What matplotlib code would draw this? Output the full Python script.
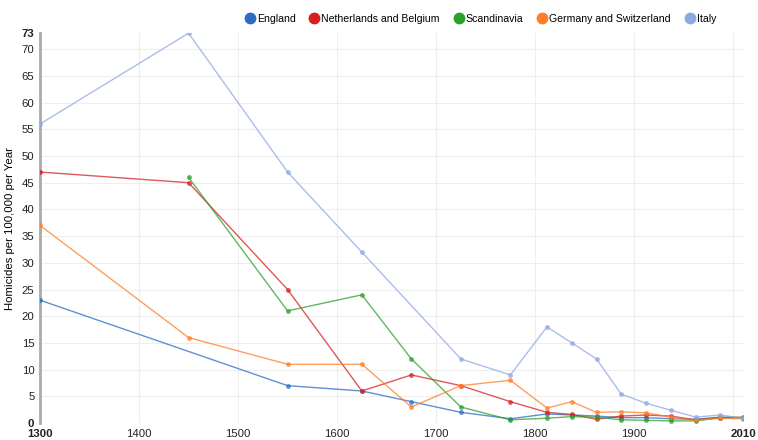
import matplotlib.pyplot as plt
from matplotlib.lines import Line2D

plt.rcParams['font.family'] = ['Liberation Sans', 'DejaVu Sans']

# years of the samples
years_all = [1300, 1450, 1550, 1625, 1675, 1725, 1775, 1812, 1837, 1862, 1887, 1912, 1937, 1962, 1987, 2010]

england_years = [1300, 1550, 1625, 1675, 1725, 1775, 1812, 1837, 1862, 1887, 1912, 1937, 1962, 1987, 2010]
england = [23, 7, 6, 4, 2, 0.8, 1.7, 1.5, 1.3, 1.0, 1.0, 0.8, 0.7, 1.1, 1.0]

netherlands_years = years_all
netherlands = [47, 45, 25, 6, 9, 7, 4, 2, 1.6, 0.7, 1.3, 1.5, 1.3, 0.6, 1.0, 1.0]

scandinavia_years = years_all[1:]
scandinavia = [46, 21, 24, 12, 3, 0.6, 0.9, 1.2, 1.1, 0.6, 0.5, 0.4, 0.4, 1.0, 1.1]

germany_years = years_all
germany = [37, 16, 11, 11, 3, 7, 8, 2.8, 4, 2.0, 2.1, 1.9, 1.1, 0.5, 0.9, 0.8]

italy_years = [1300, 1450, 1550, 1625, 1725, 1775, 1812, 1837, 1862, 1887, 1912, 1937, 1962, 1987, 2010]
italy = [56, 73, 47, 32, 12, 9, 18, 15, 12, 5.4, 3.7, 2.4, 1.1, 1.5, 0.9]

names = ["England", "Netherlands and Belgium", "Scandinavia", "Germany and Switzerland", "Italy"]
colors = ["#2b6cc4", "#d62020", "#2ca02c", "#fd7f28", "#8fa8e4"]
series = [(england_years, england), (netherlands_years, netherlands),
          (scandinavia_years, scandinavia), (germany_years, germany),
          (italy_years, italy)]

fig = plt.figure(figsize=(7.58, 4.4), dpi=100)
ax = fig.add_axes([0.0528, 0.0386, 0.9275, 0.886])

for (xs, ys), c in zip(series, colors):
    ax.plot(xs, ys, color=c, lw=1.0, alpha=0.75, marker='o', markersize=3.5,
            markeredgewidth=0, zorder=3)

ax.set_xlim(1300, 2010)
ax.set_ylim(0, 73)

xt = [1300, 1400, 1500, 1600, 1700, 1800, 1900, 2010]
yt = [0, 5, 10, 15, 20, 25, 30, 35, 40, 45, 50, 55, 60, 65, 70, 73]
ax.set_xticks(xt)
ax.set_yticks(yt)
ax.set_xticklabels([str(v) for v in xt])
ax.set_yticklabels([str(v) for v in yt])
for lab in ax.get_xticklabels():
    if lab.get_text() in ("1300", "2010"):
        lab.set_fontweight('bold')
for lab in ax.get_yticklabels():
    if lab.get_text() in ("0", "73"):
        lab.set_fontweight('bold')

ax.tick_params(length=0, labelsize=8.2, colors='#222222')
ax.tick_params(axis='x', pad=4)
ax.tick_params(axis='y', pad=4)

# grid
for v in [1400, 1500, 1600, 1700, 1800, 1900, 2000]:
    ax.axvline(v, color='#eeeeee', lw=0.8, zorder=0)
for v in range(5, 71, 5):
    ax.axhline(v, color='#eeeeee', lw=0.8, zorder=0)

for s in ['top', 'right', 'bottom']:
    ax.spines[s].set_visible(False)
ax.spines['left'].set_color('#aaaaaa')
ax.spines['left'].set_linewidth(2)
ax.axhline(0, color='#eeeeee', lw=0.8, zorder=0)

ax.set_ylabel("Homicides per 100,000 per Year", fontsize=8.2, labelpad=5)

handles = [Line2D([], [], ls='none', marker='o', markersize=7.5, color=c) for c in colors]
fig.legend(handles, names, loc='center right', bbox_to_anchor=(0.95, 0.957), ncol=5,
           frameon=False, fontsize=7.6, handletextpad=0.05, columnspacing=1.2,
           handlelength=1.2, borderaxespad=0)

fig.savefig("out.png", dpi=100)
